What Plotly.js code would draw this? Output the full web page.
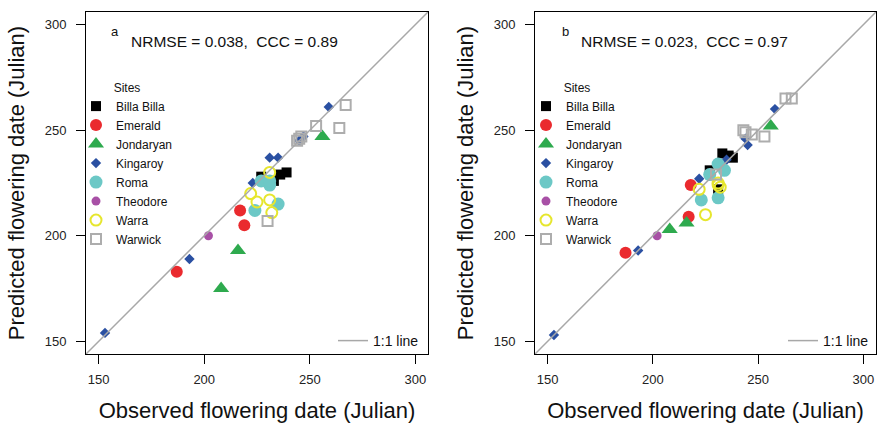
<!DOCTYPE html>
<html><head><meta charset="utf-8">
<script src="https://cdn.plot.ly/plotly-3.0.1.min.js"></script>
<style>html,body{margin:0;padding:0;background:#fff}#chart{width:877px;height:426px}</style>
</head><body><div id="chart"></div>
<script>
const sites = ['Billa Billa','Emerald','Jondaryan','Kingaroy','Roma','Theodore','Warra','Warwick'];

// Panel a (observed, predicted)
const billaObsA = [227, 231, 233, 236, 239];
const billaPredA = [228, 225, 226, 229, 230];
const emeraldObsA = [187, 217, 219];
const emeraldPredA = [183, 212, 205];
const jondaryanObsA = [208, 216, 256];
const jondaryanPredA = [175, 193, 247];
const kingaroyObsA = [153, 193, 223, 231, 235, 245, 247, 259];
const kingaroyPredA = [154, 189, 225, 237, 237, 245, 247, 261];
const romaObsA = [224, 227, 231, 231, 235];
const romaPredA = [212, 226, 224, 226, 215];
const theodoreObsA = [202];
const theodorePredA = [200];
const warraObsA = [222, 225, 231, 231, 232];
const warraPredA = [220, 216, 230, 217, 211];
const warwickObsA = [230, 244, 245, 246, 253, 264, 267];
const warwickPredA = [207, 245, 246, 247, 252, 251, 262];

// Panel b (observed, predicted)
const billaObsB = [227, 231, 233, 236, 238];
const billaPredB = [231, 222, 239, 238, 237];
const emeraldObsB = [187, 217, 218];
const emeraldPredB = [192, 209, 224];
const jondaryanObsB = [208, 216, 256];
const jondaryanPredB = [203, 206, 252];
const kingaroyObsB = [153, 193, 222, 231, 235, 244, 245, 258];
const kingaroyPredB = [153, 193, 227, 233, 236, 246, 243, 260];
const romaObsB = [223, 227, 231, 231, 234];
const romaPredB = [217, 229, 234, 218, 231];
const theodoreObsB = [202];
const theodorePredB = [200];
const warraObsB = [222, 225, 231, 231, 232];
const warraPredB = [222, 210, 224, 225, 223];
const warwickObsB = [230, 243, 244, 247, 253, 263, 266];
const warwickPredB = [229, 250, 249, 248, 247, 265, 265];

const tickVals = [150, 200, 250, 300];
const axisRange = [144, 306];
const oneToOne = [100, 350];
const statsA = 'NRMSE = 0.038,  CCC = 0.89';
const statsB = 'NRMSE = 0.023,  CCC = 0.97';

const styles = {
  'Billa Billa': {symbol:'square', color:'#000000', size:10},
  'Emerald': {symbol:'circle', color:'#EA2A2E', size:12},
  'Jondaryan': {symbol:'triangle-up', color:'#2EAA4E', size:14},
  'Kingaroy': {symbol:'diamond', color:'#2A50A2', size:8},
  'Roma': {symbol:'circle', color:'#6CC8C6', size:13},
  'Theodore': {symbol:'circle', color:'#A850A6', size:9},
  'Warra': {symbol:'circle-open', color:'#E6E62E', size:11, lw:2},
  'Warwick': {symbol:'square-open', color:'#ADADAD', size:10, lw:2}
};

const dataA = [[billaObsA,billaPredA],[emeraldObsA,emeraldPredA],[jondaryanObsA,jondaryanPredA],[kingaroyObsA,kingaroyPredA],[romaObsA,romaPredA],[theodoreObsA,theodorePredA],[warraObsA,warraPredA],[warwickObsA,warwickPredA]];
const dataB = [[billaObsB,billaPredB],[emeraldObsB,emeraldPredB],[jondaryanObsB,jondaryanPredB],[kingaroyObsB,kingaroyPredB],[romaObsB,romaPredB],[theodoreObsB,theodorePredB],[warraObsB,warraPredB],[warwickObsB,warwickPredB]];

const traces = [];
function addPanel(data, xa, ya, leg) {
  sites.forEach((s, i) => {
    const st = styles[s];
    traces.push({
      type:'scatter', mode:'markers', name:s, x:data[i][0], y:data[i][1],
      xaxis:xa, yaxis:ya, legend:leg, cliponaxis:true,
      marker:{symbol:st.symbol, color:st.color, size:st.size, line:{width:st.lw||0, color:st.color}}
    });
  });
}
addPanel(dataA, 'x', 'y', 'legend');
addPanel(dataB, 'x2', 'y2', 'legend2');
traces.push({type:'scatter', mode:'lines', name:'1:1 line', x:oneToOne, y:oneToOne, xaxis:'x', yaxis:'y', legend:'legend3', line:{color:'#A8A8A8', width:1.5}});
traces.push({type:'scatter', mode:'lines', name:'1:1 line', x:oneToOne, y:oneToOne, xaxis:'x2', yaxis:'y2', legend:'legend4', line:{color:'#A8A8A8', width:1.5}});

const W = 877, H = 426;
const px = v => v / W, py = v => 1 - v / H;
const fam = 'Liberation Sans, Arial, Helvetica, sans-serif';

function xAx(dom) {
  return {domain:dom, range:axisRange, tickvals:tickVals, ticks:'outside', ticklen:9, tickwidth:1, tickcolor:'#000',
    showline:true, mirror:true, linecolor:'#000', linewidth:1, showgrid:false, zeroline:false,
    tickfont:{size:13, color:'#222'}, ticklabelstandoff:4,
    title:{text:'Observed flowering date (Julian)', font:{size:22, color:'#111'}, standoff:17}};
}
function yAx(anchor) {
  return {domain:[py(354), py(12)], anchor:anchor, range:axisRange, tickvals:tickVals, ticks:'outside', ticklen:9, tickwidth:1, tickcolor:'#000',
    showline:true, mirror:true, linecolor:'#000', linewidth:1, showgrid:false, zeroline:false,
    tickfont:{size:13, color:'#222'}, ticklabelstandoff:7,
    title:{text:'Predicted flowering date (Julian)', font:{size:22, color:'#111'}, standoff:13}};
}
function sitesLegend(xpx) {
  return {x:px(xpx), y:py(76), xanchor:'left', yanchor:'top', bgcolor:'rgba(0,0,0,0)', borderwidth:0,
    font:{size:12, color:'#111'}, title:{text:'Sites', font:{size:12, color:'#111'}, side:'top center'},
    itemwidth:30, tracegroupgap:0, traceorder:'normal'};
}
function lineLegend(xpx) {
  return {x:px(xpx), y:py(341), xanchor:'right', yanchor:'middle', bgcolor:'rgba(0,0,0,0)', borderwidth:0,
    font:{size:14, color:'#111'}, itemwidth:30};
}

const layout = {
  width:W, height:H, margin:{l:0, r:0, t:0, b:0}, paper_bgcolor:'#fff', plot_bgcolor:'#fff',
  font:{family:fam, color:'#111'}, showlegend:true, hovermode:false,
  xaxis:xAx([px(86), px(428)]), yaxis:yAx('x'),
  xaxis2:xAx([px(535), px(876)]), yaxis2:yAx('x2'),
  legend:sitesLegend(76), legend2:sitesLegend(526),
  legend3:lineLegend(424), legend4:lineLegend(874),
  annotations:[
    {xref:'paper', yref:'paper', x:px(115), y:py(31), text:'a', showarrow:false, xanchor:'center', yanchor:'middle', font:{size:13}},
    {xref:'paper', yref:'paper', x:px(129), y:py(42), text:statsA, showarrow:false, xanchor:'left', yanchor:'middle', font:{size:15.5}},
    {xref:'paper', yref:'paper', x:px(565), y:py(31), text:'b', showarrow:false, xanchor:'center', yanchor:'middle', font:{size:13}},
    {xref:'paper', yref:'paper', x:px(579), y:py(42), text:statsB, showarrow:false, xanchor:'left', yanchor:'middle', font:{size:15.5}}
  ]
};
Plotly.newPlot('chart', traces, layout, {displayModeBar:false, staticPlot:true});
</script></body></html>
